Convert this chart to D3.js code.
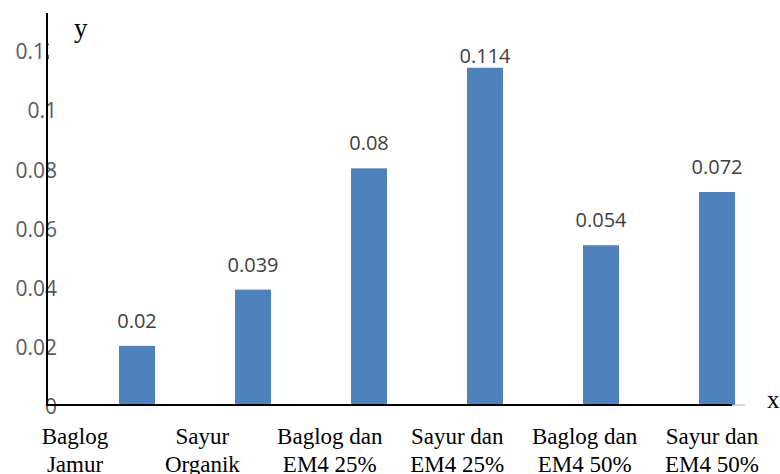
<!DOCTYPE html>
<html>
<head>
<meta charset="utf-8">
<script src="https://cdn.jsdelivr.net/npm/d3@7"></script>
<style>
  html, body { margin: 0; padding: 0; background: #fff; }
  svg { display: block; }
</style>
</head>
<body>
<svg id="chart" width="780" height="474"></svg>
<script>
// Treatment groups (two-line labels) and measured values
const categories = [
  "Baglog Jamur",
  "Sayur Organik",
  "Baglog dan EM4 25%",
  "Sayur dan EM4 25%",
  "Baglog dan EM4 50%",
  "Sayur dan EM4 50%"
];
const categoryLines = [
  ["Baglog", "Jamur"],
  ["Sayur", "Organik"],
  ["Baglog dan", "EM4 25%"],
  ["Sayur dan", "EM4 25%"],
  ["Baglog dan", "EM4 50%"],
  ["Sayur dan", "EM4 50%"]
];
const values = [0.02, 0.039, 0.08, 0.114, 0.054, 0.072];
const valueLabels = ["0.02", "0.039", "0.08", "0.114", "0.054", "0.072"];
const yTicks = [0, 0.02, 0.04, 0.06, 0.08, 0.1, 0.12];
const yTickLabels = ["0", "0.02", "0.04", "0.06", "0.08", "0.1", "0.12"];

const svg = d3.select("#chart");
const axisX = 47, baseY = 405, labelRight = 57;

const y = d3.scaleLinear().domain([0, 0.12]).range([baseY, 50]);

const xBars = d3.scaleBand()
  .domain(categories)
  .range([79, 775])
  .paddingInner(0.69)
  .paddingOuter(0.345);

const xLabels = d3.scalePoint()
  .domain(categories)
  .range([75, 712]);

const sansFont = "'Open Sans', 'Liberation Sans', sans-serif";
const serifFont = "'Liberation Serif', 'Times New Roman', serif";

// Light grey baseline of the plot area
svg.append("line")
  .attr("x1", axisX).attr("x2", 745)
  .attr("y1", baseY).attr("y2", baseY)
  .attr("stroke", "#d9d9d9").attr("stroke-width", 2);

// Bars
svg.append("g").selectAll("rect")
  .data(values)
  .join("rect")
  .attr("x", (d, i) => xBars(categories[i]))
  .attr("y", d => y(d))
  .attr("width", xBars.bandwidth())
  .attr("height", d => baseY - y(d))
  .attr("fill", "#4f81bd");

// Value labels above bars
svg.append("g").selectAll("text")
  .data(values)
  .join("text")
  .attr("x", (d, i) => xBars(categories[i]) + xBars.bandwidth() / 2)
  .attr("y", d => Math.max(y(d) - 18, 63))
  .attr("text-anchor", "middle")
  .attr("font-family", sansFont)
  .attr("font-size", 20)
  .attr("fill", "#404040")
  .text((d, i) => valueLabels[i]);

// Clip for the top tick label, which is cut at the axis line
// (coordinates are in the tick group's frame, shifted by labelRight)
svg.append("defs").append("clipPath").attr("id", "topClip")
  .append("rect")
  .attr("x", -labelRight - 10)
  .attr("y", -40)
  .attr("width", axisX + 2 - labelRight + labelRight + 10)
  .attr("height", 80);

const yAxis = d3.axisLeft(y)
  .tickValues(yTicks)
  .tickSize(0)
  .tickPadding(0)
  .tickFormat((d, i) => yTickLabels[i]);

const yg = svg.append("g").attr("transform", `translate(${labelRight},0)`).call(yAxis);
yg.select(".domain").remove();
yg.selectAll("text")
  .attr("font-family", sansFont)
  .attr("font-size", 21)
  .attr("fill", "#595959")
  .attr("dy", "0.42em");
yg.selectAll(".tick").filter(d => d === 0.12)
  .select("text")
  .attr("clip-path", "url(#topClip)");

// Axis lines
svg.append("line")
  .attr("x1", axisX).attr("x2", axisX)
  .attr("y1", 13).attr("y2", baseY)
  .attr("stroke", "#000").attr("stroke-width", 2);
svg.append("line")
  .attr("x1", axisX - 1).attr("x2", 732)
  .attr("y1", baseY).attr("y2", baseY)
  .attr("stroke", "#000").attr("stroke-width", 2);

// Category labels
const cat = svg.append("g").selectAll("text")
  .data(categoryLines)
  .join("text")
  .attr("x", (d, i) => xLabels(categories[i]))
  .attr("y", 444)
  .attr("text-anchor", "middle")
  .attr("font-family", serifFont)
  .attr("font-size", 23)
  .attr("fill", "#000");
cat.each(function (lines) {
  const t = d3.select(this);
  const x0 = t.attr("x");
  lines.forEach((ln, k) => {
    t.append("tspan").attr("x", x0).attr("dy", k === 0 ? 0 : 28).text(ln);
  });
});

// Axis names
svg.append("text").attr("x", 74).attr("y", 37)
  .attr("font-family", serifFont).attr("font-size", 27).attr("fill", "#000")
  .text("y");
svg.append("text").attr("x", 767).attr("y", 408)
  .attr("font-family", serifFont).attr("font-size", 25).attr("fill", "#000")
  .text("x");
</script>
</body>
</html>
